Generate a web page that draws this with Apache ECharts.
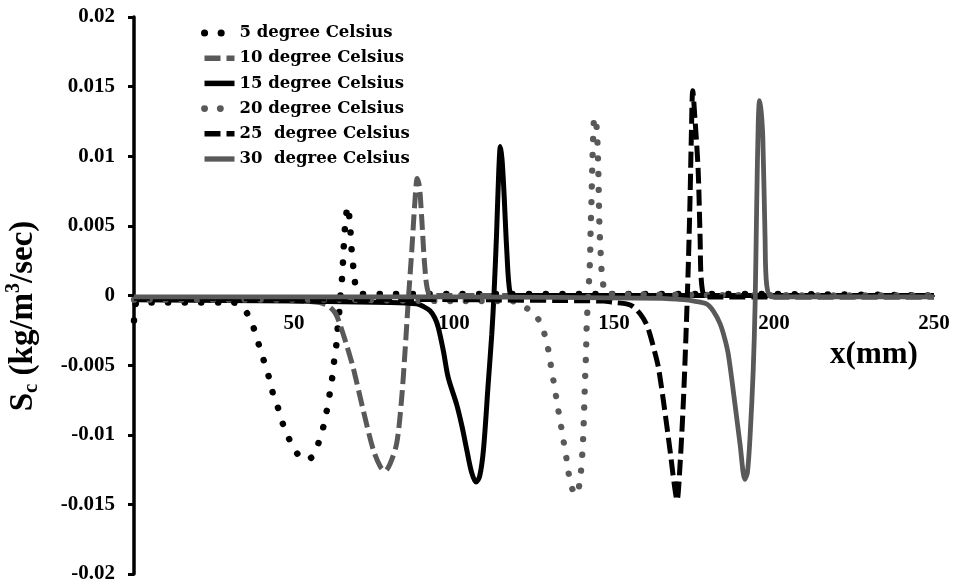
<!DOCTYPE html>
<html><head><meta charset="utf-8">
<script src="https://cdn.jsdelivr.net/npm/echarts@6/dist/echarts.min.js"></script>
<style>html,body{margin:0;padding:0;background:#fff}#c{width:958px;height:583px}</style>
</head><body><div id="c"></div><script>
// Series names (legend)
const seriesNames = ['5 degree Celsius', '10 degree Celsius', '15 degree Celsius', '20 degree Celsius', '25  degree Celsius', '30  degree Celsius'];
// x (mm), Sc (kg/m3/sec) points
const s05 = [[0,-0.0018],[1,-0.0005],[10,-0.0005],[20,-0.0005],[28,-0.0005],[31,-0.0005],[33.5,-0.0008],[35.4,-0.0013],[37.5,-0.0024],[39.1,-0.0036],[40.6,-0.0047],[42.2,-0.0059],[43.5,-0.0071],[45.2,-0.0082],[46.8,-0.0094],[48.9,-0.0105],[51.5,-0.0115],[53.5,-0.0118],[55.6,-0.0116],[57.8,-0.0105],[59.2,-0.0094],[60.3,-0.0082],[61.2,-0.0070],[62.0,-0.0058],[62.6,-0.0046],[63.3,-0.0034],[63.7,-0.0022],[64.2,-0.0010],[64.6,0.0003],[65.1,0.0015],[65.5,0.0033],[66.0,0.0051],[66.8,0.0064],[67.5,0.0051],[68.0,0.0033],[68.8,0.0015],[69.6,0.0003],[71,0.0001],[80,0.0001],[100,0.0001],[150,0.0001],[200,0.0001],[250,0.0]];
const s10 = [[0,-0.0002],[20,-0.0002],[40,-0.0003],[52,-0.0004],[58,-0.0005],[61,-0.0008],[63,-0.0013],[64.4,-0.0021],[66.5,-0.0036],[68.5,-0.0052],[71.7,-0.0083],[74.8,-0.0111],[77,-0.0123],[78.4,-0.0126],[80,-0.0121],[82.1,-0.0106],[83.6,-0.0075],[84.7,-0.0040],[85.7,-0.0004],[86.8,0.0032],[87.8,0.0068],[88.5,0.0084],[89.2,0.0078],[89.9,0.0056],[90.9,0.0020],[92,0.0002],[94,0.0000],[150,0.0000],[250,0.0000]];
const s15 = [[0,-0.0003],[50,-0.0004],[80,-0.0005],[88.3,-0.0006],[90.5,-0.0008],[92.5,-0.0011],[94,-0.0016],[95.1,-0.0023],[96.7,-0.0040],[98.2,-0.0059],[100.8,-0.0078],[102.5,-0.0094],[104,-0.0111],[105.5,-0.0127],[106.9,-0.0134],[108,-0.0130],[109.2,-0.0111],[110.7,-0.0063],[111.8,-0.0028],[112.5,0.0001],[113.3,0.0044],[114.0,0.0090],[114.5,0.0107],[115.0,0.0098],[115.6,0.0075],[116.5,0.0032],[117.5,0.0002],[119,0.0000],[250,0.0000]];
const s20 = [[0,-0.0003],[60,-0.0003],[100,-0.0004],[118,-0.0004],[120.6,-0.0007],[124.8,-0.0012],[127.4,-0.0022],[128.8,-0.0032],[129.8,-0.0043],[130.5,-0.0054],[131.4,-0.0065],[132.2,-0.0077],[133.1,-0.0089],[134.2,-0.0104],[135,-0.0115],[135.7,-0.0126],[136.8,-0.0138],[138.3,-0.0143],[139.4,-0.0132],[140.2,-0.0110],[140.6,-0.0087],[140.9,-0.0065],[141.25,-0.0042],[141.5,-0.0020],[142,0.0002],[142.5,0.0025],[142.7,0.0047],[143,0.0071],[143.3,0.0100],[143.9,0.0128],[144.6,0.0120],[145.1,0.0089],[145.4,0.0054],[145.8,0.0032],[146.5,0.0010],[148,0.0001],[250,0.0000]];
const s25 = [[0,-0.0002],[100,-0.0003],[146.7,-0.0004],[150,-0.0005],[153.9,-0.0006],[156,-0.0008],[158.1,-0.0013],[160,-0.0020],[161.25,-0.0028],[163,-0.0043],[163.9,-0.0052],[165.4,-0.0075],[167.5,-0.0111],[168.8,-0.0135],[169.7,-0.0147],[170.6,-0.0123],[171.7,-0.0075],[172.5,-0.0028],[173.2,0.0020],[173.75,0.0068],[174.2,0.0118],[174.6,0.0147],[175.3,0.0127],[176.3,0.0090],[176.9,0.0042],[177.4,0.0008],[178.9,-0.0001],[250,-0.0001]];
const s30 = [[0,-0.0001],[100,-0.0001],[165,-0.0002],[171.7,-0.0003],[175,-0.0004],[178.9,-0.0006],[181,-0.0011],[183.1,-0.0020],[184.5,-0.0030],[185.7,-0.0042],[187.8,-0.0078],[189.4,-0.0107],[190.9,-0.0132],[191.7,-0.0127],[192.5,-0.0102],[193.5,-0.0054],[194.1,-0.0006],[194.6,0.0066],[195.1,0.0126],[195.5,0.0140],[196.0,0.0132],[196.5,0.0114],[197.2,0.0042],[197.7,0.0008],[199.3,-0.0001],[250,-0.0001]];
// axis ranges / ticks
const xTicks = [0, 250, 50];
const yTicks = [-0.02, 0.02, 0.005];

const BLACK = '#000000', GREY = '#595959';
const styles = [
  {color: BLACK, width: 6.5, type: [0.1, 16.5], cap: 'round'},
  {color: GREY, width: 5, type: [16, 6], cap: 'butt'},
  {color: BLACK, width: 5, type: 'solid', cap: 'butt'},
  {color: GREY, width: 6.3, type: [0.1, 15.7], cap: 'round'},
  {color: BLACK, width: 5, type: [16, 6], cap: 'butt'},
  {color: GREY, width: 4.8, type: 'solid', cap: 'butt'}
];
const datas = [s05, s10, s15, s20, s25, s30];

const GRID_TOP = 17, GRID_BOTTOM = 9, H = 583;
const plotH = H - GRID_TOP - GRID_BOTTOM;
// move the x axis (line + labels) up to y = 0
const zeroOffset = -plotH * (0 - yTicks[0]) / (yTicks[1] - yTicks[0]);

const chart = echarts.init(document.getElementById('c'), null, {renderer: 'canvas'});
const serif = '"Liberation Serif", "Times New Roman", serif';
chart.setOption({
  animation: false,
  backgroundColor: '#ffffff',
  grid: {left: 134, right: 24, top: GRID_TOP, bottom: GRID_BOTTOM, containLabel: false, outerBoundsMode: 'none'},
  legend: {
    orient: 'vertical', left: 196, top: 18, itemWidth: 30, itemHeight: 14, itemGap: 5.2,
    data: seriesNames.map((n, i) => ({
      name: n,
      lineStyle: {color: styles[i].color, width: styles[i].width + 0.5, type: styles[i].type, cap: styles[i].cap}
    })),
    itemStyle: {opacity: 0},
    textStyle: {fontFamily: '"DejaVu Serif", serif', fontWeight: 'bold', fontSize: 16.5, color: '#000', lineHeight: 20, padding: [0, 0, 0, 0]}
  },
  xAxis: {
    type: 'value', min: xTicks[0], max: xTicks[1], interval: xTicks[2],
    offset: zeroOffset,
    axisLine: {onZero: false, lineStyle: {color: '#000', width: 2}},
    axisTick: {show: false},
    splitLine: {show: false},
    axisLabel: {showMinLabel: false, margin: 18, fontFamily: serif, fontWeight: 'bold', fontSize: 21, color: '#000'}
  },
  yAxis: {
    type: 'value', min: yTicks[0], max: yTicks[1], interval: yTicks[2],
    axisLine: {show: true, onZero: false, lineStyle: {color: '#000', width: 3.5}},
    axisTick: {show: true, inside: false, length: 6, lineStyle: {color: '#000', width: 3}},
    splitLine: {show: false},
    axisLabel: {margin: 19, fontFamily: serif, fontWeight: 'bold', fontSize: 21, color: '#000'}
  },
  graphic: [
    {type: 'text', x: 23, y: 316, rotation: Math.PI / 2,
     style: {text: '{a|S}{b|c}{a| (kg/m}{c|3}{a|/sec)}', align: 'center', verticalAlign: 'middle', fill: '#000',
       rich: {
         a: {fontFamily: serif, fontWeight: 'bold', fontSize: 33, lineHeight: 38, fill: '#000'},
         b: {fontFamily: serif, fontWeight: 'bold', fontSize: 21, lineHeight: 22, verticalAlign: 'bottom', fill: '#000'},
         c: {fontFamily: serif, fontWeight: 'bold', fontSize: 20, lineHeight: 22, verticalAlign: 'top', fill: '#000'}
       }}},
    {type: 'text', x: 874, y: 355, style: {text: 'x(mm)', align: 'center', verticalAlign: 'middle', fill: '#000', font: 'bold 31px ' + serif}}
  ],
  series: datas.map((d, i) => ({
    name: seriesNames[i], type: 'line', data: d, smooth: 0.3, showSymbol: false, symbol: 'none',
    lineStyle: {color: styles[i].color, width: styles[i].width, type: styles[i].type, cap: styles[i].cap},
    itemStyle: {color: styles[i].color},
    emphasis: {disabled: true}, silent: true
  }))
});
</script></body></html>
